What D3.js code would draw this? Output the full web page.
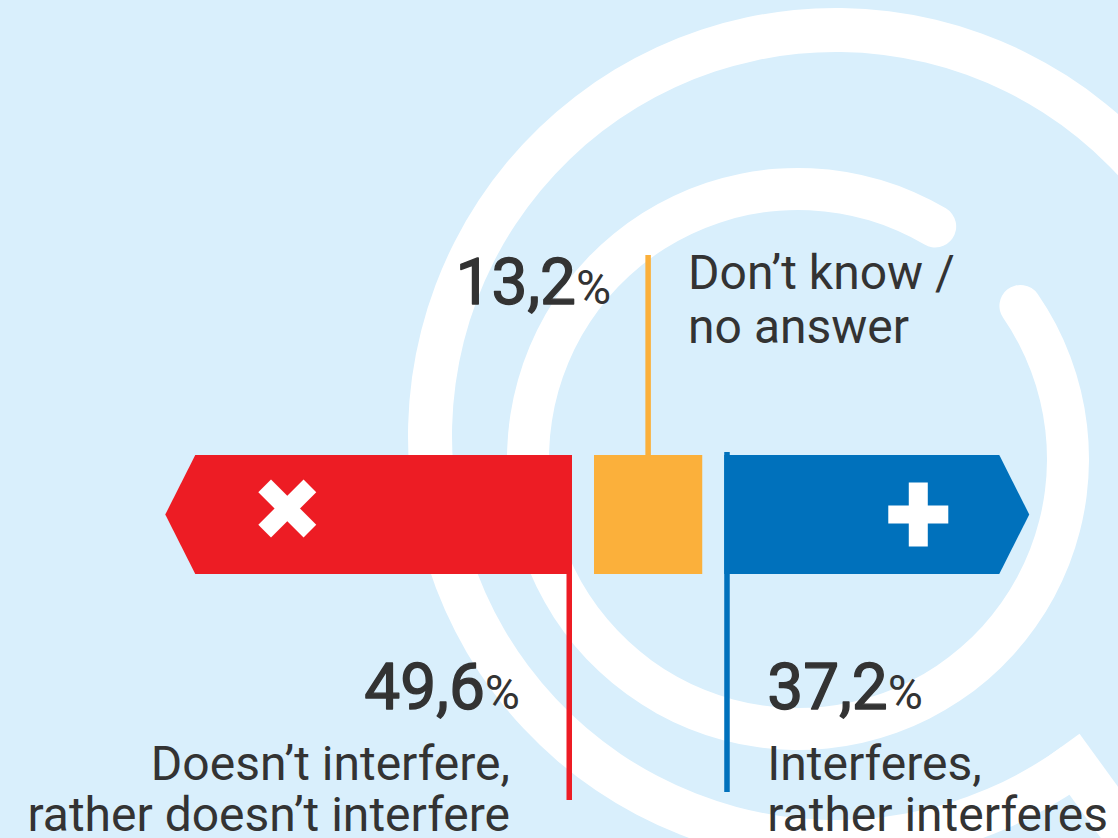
<!DOCTYPE html>
<html>
<head>
<meta charset="utf-8">
<script src="https://cdn.jsdelivr.net/npm/d3@7"></script>
<style>
  html, body { margin: 0; padding: 0; background: #d9effc; }
  svg { display: block; }
  text { font-family: Roboto, "Noto Sans", sans-serif; fill: #333333; }
</style>
</head>
<body>
<svg id="chart" width="1118" height="838"></svg>
<script>
// ---- data ----
const categories = ["Doesn’t interfere, rather doesn’t interfere", "Don’t know / no answer", "Interferes, rather interferes"];
const values = [49.6, 13.2, 37.2];
const labelLines = [["Doesn’t interfere,", "rather doesn’t interfere"], ["Don’t know /", "no answer"], ["Interferes,", "rather interferes"]];
const colors = ["#ed1c24", "#fbb03b", "#0071bc"];

// ---- setup ----
const W = 1118, H = 838;
const svg = d3.select("#chart");
svg.append("rect").attr("width", W).attr("height", H).attr("fill", "#d9effc");

const deg = d => d * Math.PI / 180;

// decorative rings
const bg = svg.append("g");
const outerC = [836, 436];
bg.append("path")
  .attr("transform", `translate(${outerC})`)
  .attr("d", d3.arc()({innerRadius: 384, outerRadius: 428, startAngle: deg(144), endAngle: deg(450)}))
  .attr("fill", "#ffffff");
const hAng = deg(54);
bg.append("line")
  .attr("x1", outerC[0] + 384 * Math.cos(hAng)).attr("y1", outerC[1] + 384 * Math.sin(hAng))
  .attr("x2", outerC[0] + 700 * Math.cos(hAng)).attr("y2", outerC[1] + 700 * Math.sin(hAng))
  .attr("stroke", "#ffffff").attr("stroke-width", 44);
const midC = [798, 459];
bg.append("path")
  .attr("transform", `translate(${midC})`)
  .attr("d", d3.arc().cornerRadius(21)({innerRadius: 249, outerRadius: 291, startAngle: deg(51), endAngle: deg(395)}))
  .attr("fill", "#ffffff");

// ---- scale & layout ----
const x = d3.scaleLinear().domain([0, 100]).range([0, 820]);
const barTop = 455, barBot = 574, cy = (barTop + barBot) / 2, tip = 30, gap = 22, lw = 5.5;
const redRight = 572;
const redLeft = redRight - x(values[0]);
const orLeft = redRight + gap, orRight = orLeft + x(values[1]), orC = (orLeft + orRight) / 2;
const blLeft = orRight + gap, blRight = blLeft + x(values[2]);

const g = svg.append("g");
// red arrow (pointing left)
g.append("path")
  .attr("d", d3.line()([[redLeft, cy], [redLeft + tip, barTop], [redRight, barTop], [redRight, barBot], [redLeft + tip, barBot]]) + "Z")
  .attr("fill", colors[0]);
// orange box
g.append("rect").attr("x", orLeft).attr("y", barTop).attr("width", orRight - orLeft).attr("height", barBot - barTop).attr("fill", colors[1]);
// blue arrow (pointing right)
g.append("path")
  .attr("d", d3.line()([[blLeft, barTop], [blRight - tip, barTop], [blRight, cy], [blRight - tip, barBot], [blLeft, barBot]]) + "Z")
  .attr("fill", colors[2]);

// leader lines
g.append("rect").attr("x", redRight - lw).attr("y", barBot - 1).attr("width", lw).attr("height", 800 - barBot + 1).attr("fill", colors[0]);
g.append("rect").attr("x", orC - lw / 2).attr("y", 255).attr("width", lw).attr("height", barTop - 255 + 1).attr("fill", colors[1]);
g.append("rect").attr("x", blLeft).attr("y", 452).attr("width", lw).attr("height", 792 - 452).attr("fill", colors[2]);

// icons
const crossC = [redLeft + 122, cy - 6];
[45, -45].forEach(a => {
  g.append("rect").attr("x", -32).attr("y", -9).attr("width", 64).attr("height", 18)
    .attr("fill", "#fff").attr("transform", `translate(${crossC}) rotate(${a})`);
});
const plusC = [blRight - 111, cy];
g.append("rect").attr("x", plusC[0] - 30).attr("y", plusC[1] - 9).attr("width", 60).attr("height", 18).attr("fill", "#fff");
g.append("rect").attr("x", plusC[0] - 9.5).attr("y", plusC[1] - 32).attr("width", 19).attr("height", 64).attr("fill", "#fff");

// ---- texts ----
const fmt = v => v.toFixed(1).replace(".", ",");
function pct(xp, y, anchor, v) {
  const t = svg.append("text").attr("x", xp).attr("y", y).attr("text-anchor", anchor);
  t.append("tspan").attr("font-size", 64).attr("font-weight", 400)
    .attr("stroke", "#333333").attr("stroke-width", 1.4).attr("stroke-linejoin", "round").text(fmt(v));
  t.append("tspan").attr("font-size", 48).attr("font-weight", 400).text("%");
}
function label(xp, ys, anchor, lines) {
  lines.forEach((l, i) => svg.append("text").attr("x", xp).attr("y", ys[i]).attr("text-anchor", anchor)
    .attr("font-size", 48).text(l));
}
pct(redRight - 52, 709, "end", values[0]);
label(redRight - 62, [780, 831], "end", labelLines[0]);
pct(orC - 37, 304, "end", values[1]);
label(orC + 40, [289, 343], "start", labelLines[1]);
pct(blLeft + 43, 709, "start", values[2]);
label(blLeft + 43, [780, 831], "start", labelLines[2]);
</script>
</body>
</html>
